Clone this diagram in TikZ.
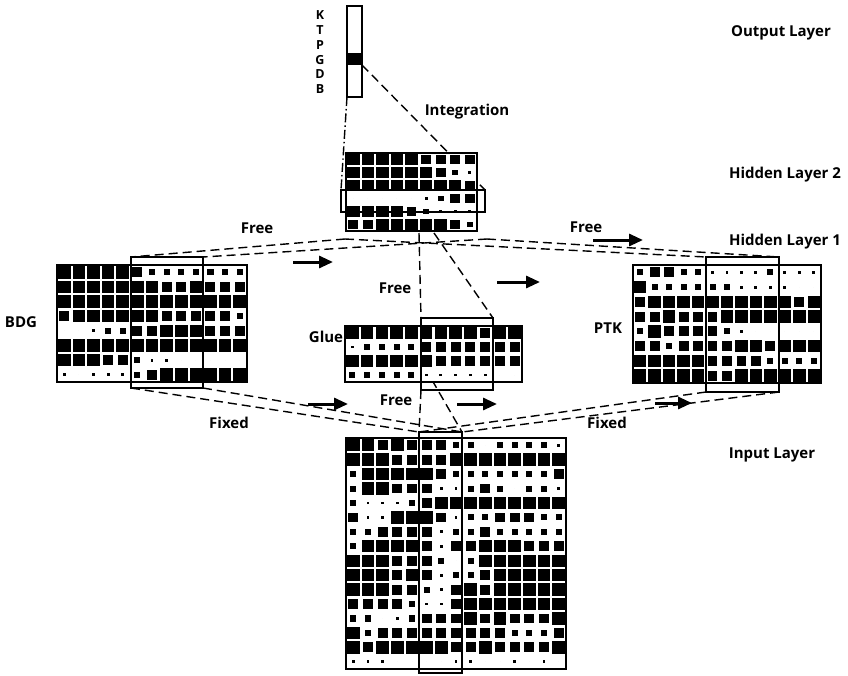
\documentclass[tikz,border=0pt]{standalone}
\usepackage{fontspec}
\setmainfont{Open Sans}
\usetikzlibrary{arrows.meta,backgrounds}
\newcommand\cellgrid[5]{%
  \foreach \rowvals [count=\r] in {#5} {
    \foreach \v [count=\c] in \rowvals {
      \pgfmathsetmacro\s{{0,0.2,0.42,0.68,0.86}[\v]}
      \fill[black] ({#1+(\c-0.5)*#3-\s*#3/2},{#2+(\r-0.5)*#4-\s*#4/2})
        rectangle ({#1+(\c-0.5)*#3+\s*#3/2},{#2+(\r-0.5)*#4+\s*#4/2});
    }
  }
}
\begin{document}
\begin{tikzpicture}[x=1pt,y=-1pt,
  frame/.style={draw=black,line width=1.4pt,fill=white,inner sep=0pt,outer sep=0pt},
  win/.style={draw=black,line width=1.6pt,inner sep=0pt,outer sep=0pt},
  conn/.style={line width=1.4pt,dash pattern=on 9pt off 5pt},
  conndot/.style={line width=1.4pt,dash pattern=on 9pt off 3pt on 1.5pt off 3pt},
  flow/.style={line width=3pt,-{Triangle[length=14pt,width=12pt]}},
  lbl/.style={font=\fontsize{15}{17}\selectfont\bfseries},
  blbl/.style={font=\fontsize{15}{17}\selectfont\bfseries},
  unitlbl/.style={font=\fontsize{12.5}{13}\selectfont\bfseries,inner sep=0pt}]
\useasboundingbox (0,0) rectangle (848,675);

% ---------- frames ----------
\node[frame,minimum width=15pt,minimum height=91pt] (out) at (354.5,51.5) {};
\fill[black] (347,53) rectangle (362,65);
\coordinate (outband) at (362,65);

\node[frame,minimum width=131pt,minimum height=78pt] (hl2) at (411.5,192) {};
\node[frame,minimum width=190pt,minimum height=117pt] (bdg) at (152,323.5) {};
\node[frame,minimum width=177pt,minimum height=56pt] (glue) at (433.5,354) {};
\node[frame,minimum width=188pt,minimum height=118pt] (ptk) at (727,324) {};
\node[frame,minimum width=220pt,minimum height=231pt] (inp) at (456,553.5) {};

% ---------- cells ----------
\cellgrid{346}{153}{14.556}{13}{
{4,4,4,4,4,3,3,3,3},
{4,4,4,4,4,4,3,2,1},
{4,4,4,4,4,4,4,4,3},
{0,0,0,0,0,1,2,3,3},
{4,4,4,4,3,2,1,1,1},
{3,3,4,4,4,4,4,3,2}}

\cellgrid{57}{265}{14.615}{14.625}{
{4,4,4,4,4,3,2,2,2,2,2,2,2},
{4,4,4,4,4,4,4,3,3,4,3,3,3},
{4,4,4,4,4,4,4,4,4,4,4,4,4},
{3,4,4,4,4,4,4,3,3,3,3,3,2},
{0,0,1,2,2,3,3,4,4,4,3,3,3},
{4,4,4,4,4,4,4,4,4,4,4,4,4},
{4,4,4,3,3,2,1,1,0,0,0,0,0},
{1,0,1,1,1,2,3,4,4,4,4,4,4}}

\cellgrid{345}{326}{14.75}{14}{
{4,4,4,4,4,4,4,4,4,3,4,4},
{1,2,2,2,2,3,3,3,3,3,3,3},
{4,4,4,4,4,4,3,3,3,3,3,3},
{2,2,2,2,2,1,1,1,1,1,0,0}}

\cellgrid{633}{265}{14.46}{14.75}{
{2,3,3,2,2,1,1,1,1,2,1,1,1},
{4,2,2,2,2,2,2,1,1,1,1,0,0},
{3,4,4,4,4,4,4,4,4,4,4,3,4},
{3,3,4,3,3,3,4,4,4,4,4,4,4},
{2,4,3,3,3,3,2,1,0,0,0,0,0},
{3,3,2,3,3,3,3,4,4,3,4,4,4},
{4,4,4,4,4,3,3,3,3,2,2,2,2},
{4,4,4,4,4,3,3,4,4,4,4,4,4}}

\cellgrid{346}{438}{14.667}{14.4375}{
{4,4,3,4,3,3,3,2,2,0,2,2,2,2,1},
{4,4,4,3,3,3,3,4,4,4,4,4,4,4,4},
{2,4,4,4,4,4,3,2,2,2,2,2,2,2,3},
{2,4,4,3,3,3,1,1,2,3,2,0,2,2,1},
{2,1,1,1,2,3,4,4,4,4,4,4,4,4,4},
{3,1,1,4,4,4,3,1,2,2,3,3,3,2,2},
{2,2,3,3,3,3,1,2,2,3,2,2,2,2,2},
{2,4,4,4,4,3,1,3,3,4,4,4,3,3,3},
{4,4,4,3,3,3,2,0,2,4,4,4,4,4,4},
{4,4,4,3,4,3,1,2,2,3,4,4,4,4,4},
{4,4,4,3,3,2,1,3,4,3,4,4,4,4,4},
{3,3,3,3,2,1,1,3,4,4,4,4,4,4,4},
{2,2,0,1,2,3,3,3,4,3,4,3,3,3,4},
{4,2,3,3,3,3,3,3,3,3,3,2,2,2,3},
{4,3,4,4,4,4,4,3,3,4,3,3,3,3,4},
{1,1,1,0,0,0,0,1,1,0,0,1,0,1,0}}

% ---------- windows ----------
\node[win,minimum width=144pt,minimum height=22pt] (hl2win) at (413,201) {};
\node[win,minimum width=72pt,minimum height=131pt] (bdgwin) at (167,322.5) {};
\node[win,minimum width=72pt,minimum height=72pt] (gluewin) at (457,354) {};
\node[win,minimum width=73pt,minimum height=135pt] (ptkwin) at (742.5,324.5) {};
\node[win,minimum width=43pt,minimum height=241pt] (inpwin) at (440.5,552.5) {};

\coordinate (hl2L) at (345,239);
\coordinate (hl2R) at (487,239);
\coordinate (g1) at (419,233);
\coordinate (g2) at (434,233);
\coordinate (gb) at (432,380);

% ---------- connectors (behind) ----------
\begin{scope}[on background layer]
\draw[conndot] (out.south west) -- (hl2win.north west);
\draw[conn] (outband) -- (hl2win.north east);
\draw[conn] (hl2L) -- (bdgwin.north west);
\draw[conn] (hl2R) -- (bdgwin.north east);
\draw[conn] (hl2L) -- (ptkwin.north west);
\draw[conn] (hl2R) -- (ptkwin.north east);
\draw[conn] (g1) -- (gluewin.north west);
\draw[conn] (g2) -- (gluewin.north east);
\draw[conn] (bdgwin.south west) -- (inpwin.north west);
\draw[conn] (bdgwin.south east) -- (inpwin.north east);
\draw[conn] (ptkwin.south west) -- (inpwin.north west);
\draw[conn] (ptkwin.south east) -- (inpwin.north east);
\draw[conn] (gluewin.south west) -- (inpwin.north west);
\draw[conn] (gb) -- (inpwin.north east);
\end{scope}

% ---------- arrows ----------
\coordinate (a1s) at (293,262); \coordinate (a1e) at (333,262);
\coordinate (a2s) at (497,282); \coordinate (a2e) at (540,282);
\coordinate (a3s) at (593,240); \coordinate (a3e) at (643,240);
\coordinate (a4s) at (308,404); \coordinate (a4e) at (348,404);
\coordinate (a5s) at (457,404); \coordinate (a5e) at (497,404);
\coordinate (a6s) at (655,403); \coordinate (a6e) at (692,403);
\draw[flow] (a1s) -- (a1e);
\draw[flow] (a2s) -- (a2e);
\draw[flow] (a3s) -- (a3e);
\draw[flow] (a4s) -- (a4e);
\draw[flow] (a5s) -- (a5e);
\draw[flow] (a6s) -- (a6e);

% ---------- labels ----------
\node[unitlbl] (uK) at (320,15) {K};
\node[unitlbl] (uT) at (320,30) {T};
\node[unitlbl] (uP) at (320,45) {P};
\node[unitlbl] (uG) at (320,60) {G};
\node[unitlbl] (uD) at (320,74) {D};
\node[unitlbl] (uB) at (320,89) {B};

\node[lbl] (tout) at (781,33) {Output Layer};
\node[lbl] (thl2) at (785,175) {Hidden Layer 2};
\node[lbl] (thl1) at (785,242) {Hidden Layer 1};
\node[lbl] (tinp) at (772,455) {Input Layer};
\node[blbl] (tint) at (467,112) {Integration};
\node[blbl] (tf1) at (257,228) {Free};
\node[blbl] (tf2) at (395,288) {Free};
\node[blbl] (tf3) at (396,400) {Free};
\node[blbl] (tf4) at (586,227) {Free};
\node[blbl] (tx1) at (229,423) {Fixed};
\node[blbl] (tx2) at (607,423) {Fixed};
\node[blbl] (tbdg) at (21,322) {BDG};
\node[blbl] (tglue) at (326,337) {Glue};
\node[blbl] (tptk) at (608,328) {PTK};
\end{tikzpicture}
\end{document}
